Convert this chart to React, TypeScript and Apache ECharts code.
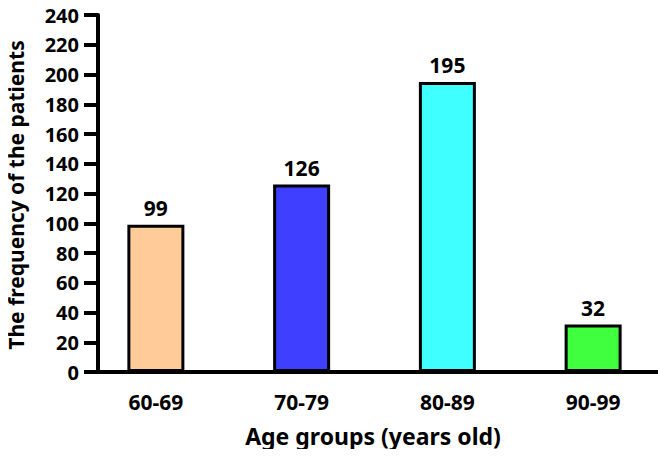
import React, { useEffect, useRef } from "react";
import * as echarts from "echarts";

const categories = ["60-69", "70-79", "80-89", "90-99"];
const frequencies = [99, 126, 195, 32];
const barColors = ["#FFCC99", "#3F3FFF", "#3FFFFF", "#3FFF3F"];
const yMin = 0;
const yMax = 240;
const yInterval = 20;
const xTitle = "Age groups (years old)";
const yTitle = "The frequency of the patients";

const FONT = "'Noto Sans', 'Open Sans', sans-serif";

export default function App() {
  const ref = useRef<HTMLDivElement>(null);
  useEffect(() => {
    if (!ref.current) return;
    const chart = echarts.init(ref.current, undefined, { renderer: "svg" });
    const option: any = {
      animation: false,
      backgroundColor: "#ffffff",
      textStyle: { fontFamily: FONT },
      grid: [
        { left: 98, right: 6, top: 15, bottom: 85 },
        { left: 83, width: 588, top: 15, bottom: 85 },
      ],
      xAxis: [
        {
          type: "value",
          gridIndex: 0,
          min: 0,
          max: 1,
          axisLine: { show: true, onZero: false, lineStyle: { color: "#000", width: 4 } },
          axisTick: { show: false },
          axisLabel: { show: false },
          splitLine: { show: false },
        },
        {
          type: "category",
          gridIndex: 1,
          data: categories,
          axisLine: { show: false },
          axisTick: { show: false },
          axisLabel: {
            color: "#000",
            fontSize: 21,
            fontWeight: "bold",
            fontFamily: FONT,
            margin: 19,
          },
          splitLine: { show: false },
        },
      ],
      yAxis: [
        {
          type: "value",
          gridIndex: 0,
          min: yMin,
          max: yMax,
          interval: yInterval,
          axisLine: { show: true, onZero: false, lineStyle: { color: "#000", width: 4 } },
          axisTick: { show: true, length: 14, lineStyle: { color: "#000", width: 4 } },
          axisLabel: {
            color: "#000",
            fontSize: 20,
            fontWeight: "bold",
            fontFamily: FONT,
            margin: 19,
          },
          splitLine: { show: false },
        },
        {
          type: "value",
          gridIndex: 1,
          min: yMin,
          max: yMax,
          interval: yInterval,
          show: false,
        },
      ],
      series: [
        {
          type: "bar",
          xAxisIndex: 1,
          yAxisIndex: 1,
          barWidth: 57,
          data: frequencies.map((v, i) => ({
            value: v,
            itemStyle: { color: barColors[i], borderColor: "#000", borderWidth: 3 },
          })),
          label: {
            show: true,
            position: "top",
            distance: 6,
            color: "#000",
            fontSize: 21,
            fontWeight: "bold",
            fontFamily: FONT,
          },
        },
      ],
      graphic: [
        {
          type: "text",
          x: 373,
          y: 436,
          style: {
            text: xTitle,
            fill: "#000",
            font: `bold 23px ${FONT}`,
            align: "center",
            verticalAlign: "middle",
          },
        },
        {
          type: "text",
          x: 16,
          y: 195,
          rotation: Math.PI / 2,
          style: {
            text: yTitle,
            fill: "#000",
            font: `bold 21px ${FONT}`,
            align: "center",
            verticalAlign: "middle",
          },
        },
      ],
    };
    chart.setOption(option);
    return () => chart.dispose();
  }, []);
  return <div ref={ref} style={{ width: 666, height: 457, margin: -8 }} />;
}
